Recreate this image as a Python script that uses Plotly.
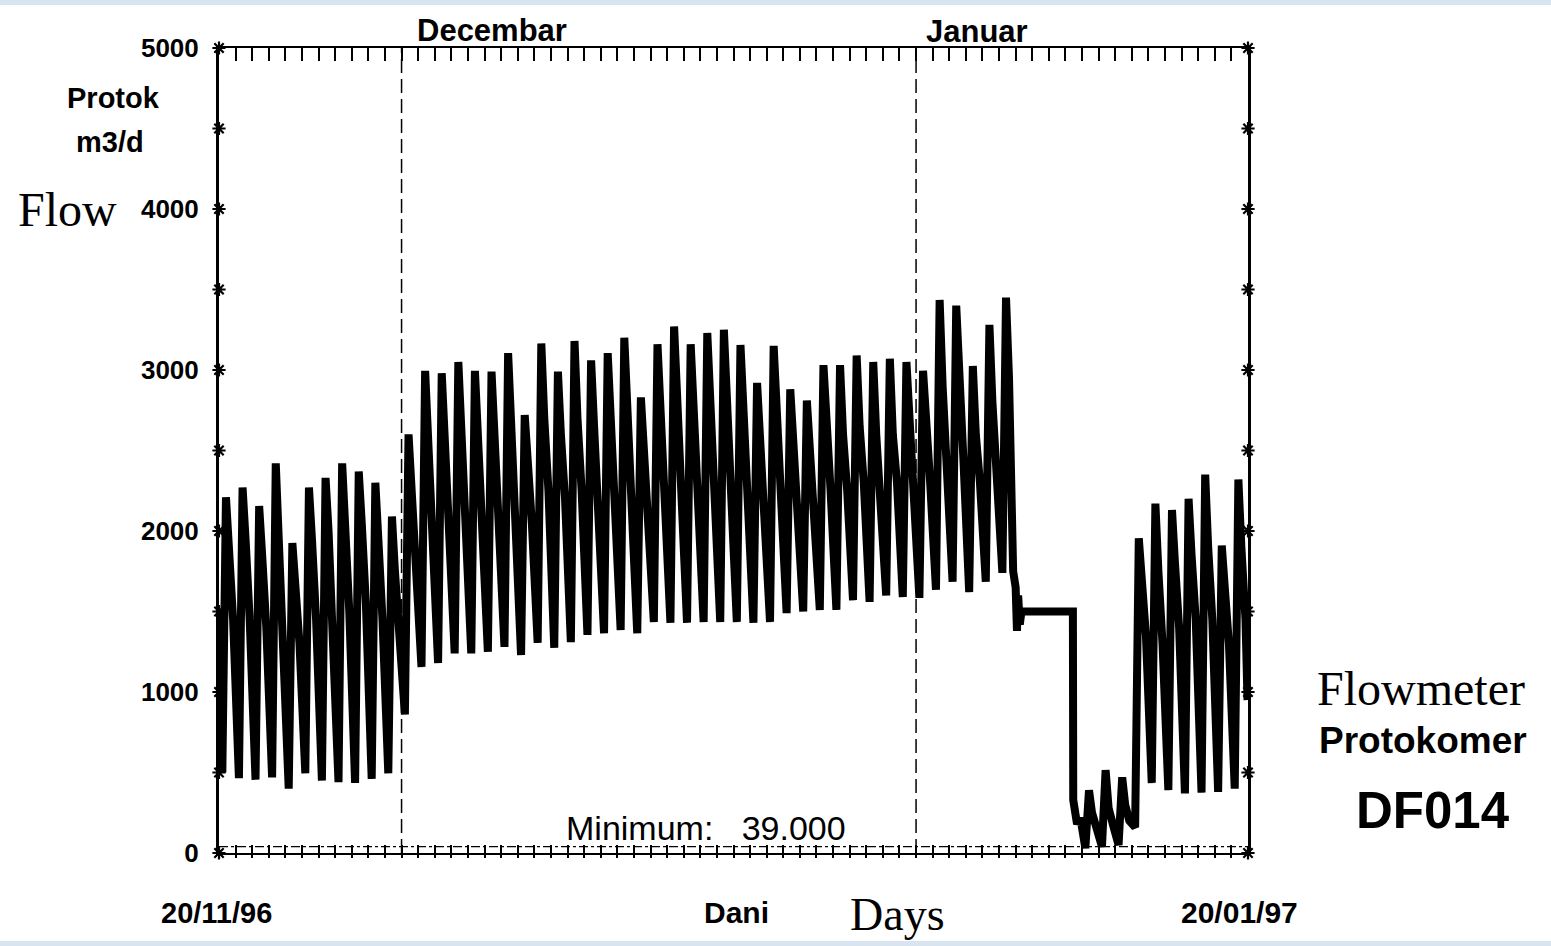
import plotly.graph_objects as go

# ---------------- data ----------------
# time axis: days since 20/11/96 00:00 ; axis spans 62 days (to 21/01/97 00:00)
days_a = list(range(0, 48))          # 20/11/96 .. 06/01/97
trough_a = [500, 465, 455, 470, 400, 495, 450, 440, 435, 460, 495,
            860, 1155, 1180, 1240, 1240, 1250, 1280, 1230, 1305, 1275, 1310, 1355,
            1365, 1385, 1365, 1435, 1430, 1430, 1435, 1435, 1435, 1430, 1435, 1490,
            1500, 1510, 1510, 1570, 1560, 1600, 1590, 1585, 1635, 1685, 1620, 1685, 1740]
peak_a = [2210, 2270, 2155, 2420, 1925, 2270, 2330, 2420, 2370, 2300, 2090,
          2600, 2995, 2980, 3050, 2995, 2990, 3105, 2720, 3165, 2990, 3180, 3060,
          3105, 3200, 2830, 3160, 3270, 3160, 3230, 3250, 3155, 2920, 3150, 2880,
          2810, 3030, 3030, 3090, 3050, 3070, 3050, 2995, 3435, 3400, 3025, 3280, 3450]
shoulder1_a = [1900, 1950, 1850, 1950, 1650, 1950, 2000, 2050, 2050, 1950, 1750,
               2300, 2600, 2600, 2650, 2600, 2550, 2650, 2450, 2700, 2600, 2700, 2650,
               2700, 2750, 2500, 2750, 2800, 2750, 2750, 2800, 2700, 2550, 2700, 2550,
               2500, 2600, 2600, 2650, 2600, 2600, 2650, 2600, 2900, 2900, 2600, 2800, 2950]
shoulder2_a = [1450, 1450, 1400, 1350, 1300, 1450, 1400, 1500, 1550, 1450, 1300,
               1900, 2150, 2150, 2200, 2150, 2100, 2200, 2050, 2250, 2200, 2250, 2200,
               2250, 2250, 2150, 2300, 2300, 2250, 2300, 2300, 2250, 2200, 2250, 2200,
               2150, 2250, 2250, 2300, 2250, 2300, 2300, 2300, 2450, 2450, 2300, 2400, 1750]

# meter outage: constant reading, then drop
outage_t = [48.0, 48.08, 48.15, 48.25, 48.35, 51.45, 51.47, 51.7, 51.9]
outage_q = [1650, 1380, 1600, 1420, 1500, 1500, 330, 180, 220]

days_c = list(range(52, 62))          # 11/01/97 .. 20/01/97
trough_c = [30, 39, 50, 160, 435, 390, 370, 375, 380, 400]
peak_c = [390, 515, 470, 1955, 2170, 2130, 2200, 2350, 1910, 2320]
shoulder1_c = [250, 280, 300, 1700, 1750, 1800, 1850, 1900, 1650, 1900]
shoulder2_c = [160, 180, 200, 1350, 1300, 1400, 1450, 1450, 1300, 1450]

start_t, start_q = [0.0], [1500]
end_t, end_q = [61.97], [950]

minimum_flow = 39
month_starts = [11, 42]               # 01/12/96, 01/01/97
y_label_vals = [0, 1000, 2000, 3000, 4000, 5000]
star_vals = list(range(0, 5001, 500))
day_ticks = list(range(0, 63))

# ---------------- build series ----------------
PHASES = [0.2, 0.42, 0.6, 0.85]   # night low, morning peak, afternoon, evening


def daily(days, lo, hi, s1, s2):
    t, q = [], []
    for d, a, b, c, e in zip(days, lo, hi, s1, s2):
        for ph, v in zip(PHASES, (a, b, c, e)):
            t.append(d + ph)
            q.append(v)
    return t, q


ta, qa = daily(days_a, trough_a, peak_a, shoulder1_a, shoulder2_a)
tc, qc = daily(days_c, trough_c, peak_c, shoulder1_c, shoulder2_c)
T = start_t + ta + outage_t + tc + end_t
Q = start_q + qa + outage_q + qc + end_q

# ---------------- figure ----------------
L, R, TOP, BOT = 219, 1248, 48, 853
W, H = 1551, 946


def px(x):
    return (x - L) / (R - L)


def py(y):
    return (BOT - y) / (BOT - TOP)


fig = go.Figure()
fig.add_trace(go.Scatter(x=T, y=Q, mode="lines",
                         line=dict(color="black", width=8),
                         hoverinfo="skip", showlegend=False))
# axis star marks
for xv in (0, 62):
    fig.add_trace(go.Scatter(x=[xv] * len(star_vals), y=star_vals, mode="markers",
                             marker=dict(symbol="asterisk-open", size=11, color="black",
                                         line=dict(color="black", width=2.2)),
                             cliponaxis=False, hoverinfo="skip", showlegend=False))
# dummy traces for extra tick axes
fig.add_trace(go.Scatter(x=[0, 62], y=[0, 0], xaxis="x2", mode="lines",
                         line=dict(width=0), hoverinfo="skip", showlegend=False))
fig.add_trace(go.Scatter(x=[0, 62], y=[0, 0], xaxis="x3", mode="lines",
                         line=dict(width=0), hoverinfo="skip", showlegend=False))

shapes = []
for m in month_starts:
    shapes.append(dict(type="line", xref="x", yref="y", x0=m, x1=m, y0=0, y1=5000,
                       line=dict(color="black", width=1.5, dash="14px,6px")))
shapes.append(dict(type="line", xref="x", yref="y", x0=0, x1=62,
                   y0=minimum_flow, y1=minimum_flow,
                   line=dict(color="black", width=1.2, dash="dashdot")))
# light blue slide border strips
shapes.append(dict(type="rect", xref="paper", yref="paper", x0=px(0), x1=px(W),
                   y0=py(5), y1=py(0), fillcolor="#d9e4f1", line=dict(width=0),
                   layer="below"))
shapes.append(dict(type="rect", xref="paper", yref="paper", x0=px(0), x1=px(W),
                   y0=py(W), y1=py(941), fillcolor="#d9e4f1", line=dict(width=0),
                   layer="below"))

BOLD = "Liberation Sans, Arial, sans-serif"
SERIF = "Liberation Serif, Times New Roman, serif"


def ann(text, x, y, size, family=BOLD, weight="bold"):
    return dict(text=text, x=px(x), y=py(y), xref="paper", yref="paper",
                xanchor="center", yanchor="middle", showarrow=False,
                font=dict(family=family, size=size, color="black", weight=weight))


annotations = [
    ann("Decembar", 492, 30, 31),
    ann("Januar", 977, 31, 31),
    ann("Protok", 113, 98, 29),
    ann("m3/d", 110, 142, 29),
    ann("Flow", 67, 210, 48, SERIF, "normal"),
    ann("Minimum:&nbsp;&nbsp; 39.000", 706, 828, 34, BOLD, "normal"),
    ann("20/11/96", 216, 913, 29),
    ann("Dani", 736, 913, 30),
    ann("Days", 897, 914, 46, SERIF, "normal"),
    ann("20/01/97", 1239, 913, 30),
    ann("Flowmeter", 1421, 688, 48, SERIF, "normal"),
    ann("Protokomer", 1423, 740, 37),
    ann("DF014", 1433, 810, 51),
]

fig.update_layout(
    width=W, height=H,
    margin=dict(l=L, r=W - R, t=TOP, b=H - BOT, pad=0),
    paper_bgcolor="white", plot_bgcolor="white",
    showlegend=False, hovermode=False,
    shapes=shapes, annotations=annotations,
    xaxis=dict(range=[0, 62], showgrid=False, zeroline=False,
               showline=True, linecolor="black", linewidth=2, mirror=True,
               ticks="inside", tickvals=day_ticks, ticklen=8, tickwidth=1.5,
               tickcolor="black", showticklabels=False),
    xaxis2=dict(range=[0, 62], overlaying="x", side="top", anchor="y",
                showgrid=False, zeroline=False, showline=False,
                ticks="inside", tickvals=day_ticks, ticklen=13, tickwidth=1.5,
                tickcolor="black", showticklabels=False),
    xaxis3=dict(range=[0, 62], overlaying="x", side="bottom", anchor="y",
                showgrid=False, zeroline=False, showline=False,
                ticks="outside", tickvals=day_ticks, ticklen=4, tickwidth=1.5,
                tickcolor="black", showticklabels=False),
    yaxis=dict(range=[0, 5000], showgrid=False, zeroline=False,
               showline=True, linecolor="black", linewidth=3, mirror=True,
               ticks="", tickvals=y_label_vals,
               ticktext=[str(v) for v in y_label_vals],
               ticklabelstandoff=12,
               tickfont=dict(family=BOLD, size=26, color="black", weight="bold")),
)

fig.write_html("out.html")
